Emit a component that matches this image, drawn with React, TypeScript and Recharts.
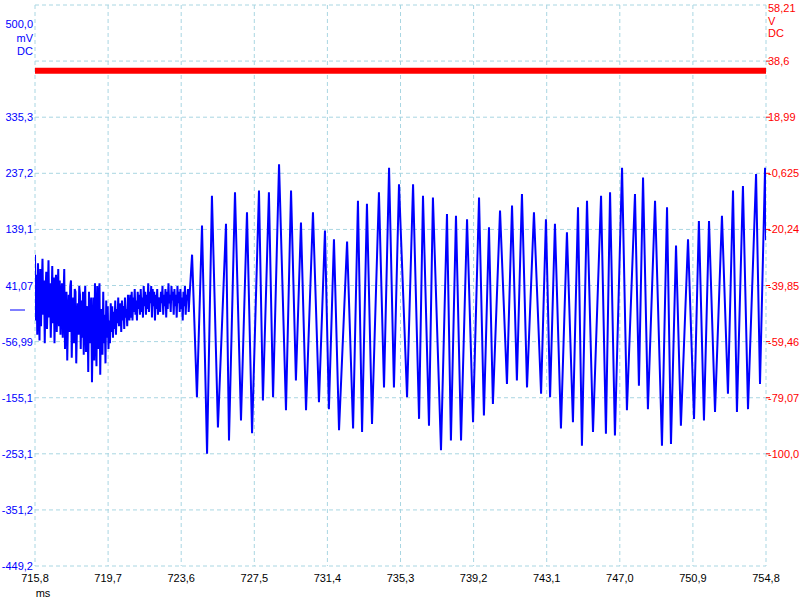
import { LineChart, Line, XAxis, YAxis, CartesianGrid } from "recharts";

// blue channel, first part: noisy record, one value every 0.04 ms from 715.8 ms
const NOISE_T0 = 715.8;
const NOISE_DT = 0.04;
const noiseMv = [
  95, -20, 60, -45, 80, 10, -55, 70, -30, 40, 88, -10, 50, -60, 30, 65, -35, 20, 85, -15,
  45, -50, 10, 75, -25, 55, -60, 35, 60, -40, 15, 70, -30, 50, -45, 25,
  45, -50, 20, 70, -70, 0, 30, -90, -20, 25, -40, 40, 50, -85, -10, 20, -60, 35, 30, -95,
  -30, 10, -45, 40, 25, -70, 15, -50, 30, -80, 5,
  40, -75, -20, 5, -110, 30, -60, -5, 20, -128, -40, 20, -90, 45, -30, -100, 40, -70, 10, 45,
  -115, -20, 0, -80, 30, -60, -10, -95, 15, -50, 5, -70, -20,
  -60, 10, -40, 5, -50, -5, -35, 15, -45, 0, -25, 20, -30, -10, 10, -40, 15, -20, 5, -35,
  20, -15, 0, -30, 25, -10, -20,
  25, -15, 30, -20, 20, -5, 35, -10, 15, -20, 30, 0, 25, -10, 35, -5, 20, -15, 40, 5,
  30, -10, 25, 0, 45, -5, 30, 10, 40, -15, 35, 5, 30, -20, 25, 0, 35, -10, 15, 20,
  -5, 30, 10, 40, -10, 25, 5, 35, -15, 30, 0, 45, 10, 25, -5, 40, 15, 30, -10, 35,
  5, 25, -15, 40, 10, 30, -5, 35, 0, 20, -20, 30, 5, 40, -10, 25, 15, 35, -5, 20,
];

// blue channel, second part: oscillation peaks and troughs (ms, mV)
const oscMs = [
  724.18, 724.44, 724.71, 724.98, 725.24, 725.56, 725.99, 726.15, 726.47, 726.79,
  727.11, 727.38, 727.75, 727.96, 728.28, 728.5, 728.82, 729.19, 729.46, 729.72,
  729.99, 730.26, 730.63, 730.95, 731.27, 731.48, 731.75, 732.02, 732.45, 732.77,
  733.03, 733.25, 733.51, 733.78, 734.15, 734.42, 734.69, 734.95, 735.22, 735.65,
  735.97, 736.29, 736.5, 736.82, 737.03, 737.46, 737.78, 737.99, 738.26, 738.53,
  738.85, 739.17, 739.49, 739.75, 740.02, 740.23, 740.61, 740.98, 741.25, 741.51,
  741.78, 742.05, 742.42, 742.8, 743.06, 743.28, 743.54, 743.86, 744.18, 744.5,
  744.77, 744.98, 745.25, 745.57, 746.0, 746.26, 746.48, 746.74, 747.12, 747.38,
  747.81, 748.02, 748.24, 748.5, 748.88, 749.25, 749.52, 749.73, 750.0, 750.26,
  750.64, 750.96, 751.22, 751.49, 751.76, 752.08, 752.45, 752.77, 753.04, 753.25,
  753.57, 753.84, 754.27, 754.48, 754.75, 754.8,
];
const oscMv = [
  95, -154, 146, -253, 198, -207, 149, -230, 204, -195,
  169, -217, 207, -160, 204, -154, 253, -177, 207, -125,
  151, -177, 169, -163, 137, -175, 122, -212, 118, -209,
  189, -215, 184, -201, 204, -137, 247, -137, 218, -154,
  218, -192, 198, -204, 195, -247, 166, -230, 163, -230,
  157, -198, 195, -186, 143, -166, 172, -131, 181, -125,
  201, -137, 169, -148, 157, -154, 149, -209, 134, -198,
  178, -239, 189, -215, 198, -218, 204, -221, 247, -177,
  201, -134, 230, -175, 189, -239, 178, -236, 111, -204,
  122, -192, 154, -195, 154, -180, 163, -148, 207, -180,
  215, -175, 236, -131, 247, 120,
];

// red channel (V)
const redMs = [715.8, 754.8];
const redV = [35.2, 35.2];

const xTicks = [715.8, 719.7, 723.6, 727.5, 731.4, 735.3, 739.2, 743.1, 747.0, 750.9, 754.8];
const xLabels = ["715,8", "719,7", "723,6", "727,5", "731,4", "735,3", "739,2", "743,1", "747,0", "750,9", "754,8"];

const leftGrid = [-449.2, -351.2, -253.1, -155.1, -56.99, 41.07, 139.1, 237.2, 335.3, 433.4, 531.4];
const leftLabels = ["-449,2", "-351,2", "-253,1", "-155,1", "-56,99", "41,07", "139,1", "237,2", "335,3", "", ""];
const leftTicks = [...leftGrid, 0];

const rightTicks = [58.21, 38.6, 18.99, -0.625, -20.24, -39.85, -59.46, -79.07, -98.68, -118.29, -137.9];
const rightLabels = ["58,21", "38,6", "18,99", "-0,625", "-20,24", "-39,85", "-59,46", "-79,07", "-100,0", "", ""];

const FONT = "Tahoma, 'Liberation Sans', Arial, sans-serif";
const BLUE = "#0000ff";
const RED = "#ff0000";

const blueData = [
  ...noiseMv.map((v, i) => ({ t: +(NOISE_T0 + i * NOISE_DT).toFixed(3), v })),
  ...oscMs.map((t, i) => ({ t, v: oscMv[i] })),
];
const redData = redMs.map((t, i) => ({ t, v: redV[i] }));

function LeftTick(props: any) {
  const { x, y, payload } = props;
  const v = payload.value;
  if (v === 0) {
    return <line x1={x - 23} x2={x - 8} y1={y + 1} y2={y + 1} stroke={BLUE} strokeWidth={1} />;
  }
  if (v === 531.4) {
    return (
      <text x={x} y={y} textAnchor="end" fill={BLUE} fontSize={11} fontFamily={FONT}>
        <tspan x={x} dy={23}>500,0</tspan>
        <tspan x={x} dy={14}>mV</tspan>
        <tspan x={x} dy={13}>DC</tspan>
      </text>
    );
  }
  const idx = leftGrid.indexOf(v);
  const label = idx >= 0 ? leftLabels[idx] : "";
  if (!label) return <g />;
  return (
    <text x={x} y={y + 4} textAnchor="end" fill={BLUE} fontSize={11} fontFamily={FONT}>
      {label}
    </text>
  );
}

function RightTick(props: any) {
  const { x, y, payload, index } = props;
  const label = rightLabels[index] ?? "";
  if (payload.value === 58.21) {
    return (
      <text x={x - 2} y={y} textAnchor="start" fill={RED} fontSize={11} fontFamily={FONT}>
        <tspan x={x - 2} dy={7}>{label}</tspan>
        <tspan x={x - 2} dy={13}>V</tspan>
        <tspan x={x - 2} dy={12}>DC</tspan>
      </text>
    );
  }
  if (!label) return <g />;
  return (
    <g>
      <line x1={x - 4} x2={x} y1={y} y2={y} stroke={RED} />
      <text x={x - 2} y={y + 4} textAnchor="start" fill={RED} fontSize={11} fontFamily={FONT}>
        {label}
      </text>
    </g>
  );
}

function XTick(props: any) {
  const { x, y, index } = props;
  return (
    <g>
      <text x={x} y={y + 16} textAnchor="middle" fill="#000" fontSize={11} fontFamily={FONT}>
        {xLabels[index]}
      </text>
      {index === 0 && (
        <text x={x + 8} y={y + 31} textAnchor="middle" fill="#000" fontSize={11} fontFamily={FONT}>
          ms
        </text>
      )}
    </g>
  );
}

export default function App() {
  return (
    <div style={{ position: "absolute", left: 0, top: 0, width: 800, height: 600, background: "#fff" }}>
      <LineChart width={800} height={600} margin={{ top: 5, right: 0, bottom: 0, left: 0 }}>
        <CartesianGrid
          yAxisId="left"
          stroke="#a9d6e2"
          strokeDasharray="4 3"
          horizontalValues={leftGrid}
          verticalValues={xTicks}
        />
        <XAxis
          dataKey="t"
          type="number"
          domain={[715.8, 754.8]}
          ticks={xTicks}
          allowDataOverflow
          axisLine={false}
          tickLine={false}
          tickSize={0}
          tickMargin={0}
          height={34}
          interval={0}
          tick={(p: any) => <XTick {...p} />}
        />
        <YAxis
          yAxisId="left"
          orientation="left"
          type="number"
          domain={[-449.2, 531.4]}
          ticks={leftTicks}
          allowDataOverflow
          axisLine={false}
          tickLine={false}
          tickSize={2}
          tickMargin={0}
          width={35}
          interval={0}
          tick={(p: any) => <LeftTick {...p} />}
        />
        <YAxis
          yAxisId="right"
          orientation="right"
          type="number"
          domain={[-137.9, 58.21]}
          ticks={rightTicks}
          allowDataOverflow
          axisLine={false}
          tickLine={false}
          tickSize={4}
          tickMargin={0}
          width={34}
          interval={0}
          tick={(p: any) => <RightTick {...p} />}
        />
        <Line
          yAxisId="right"
          data={redData}
          dataKey="v"
          type="linear"
          stroke={RED}
          strokeWidth={6}
          dot={false}
          isAnimationActive={false}
        />
        <Line
          yAxisId="left"
          data={blueData}
          dataKey="v"
          type="linear"
          stroke={BLUE}
          strokeWidth={2}
          dot={false}
          isAnimationActive={false}
        />
      </LineChart>
    </div>
  );
}
